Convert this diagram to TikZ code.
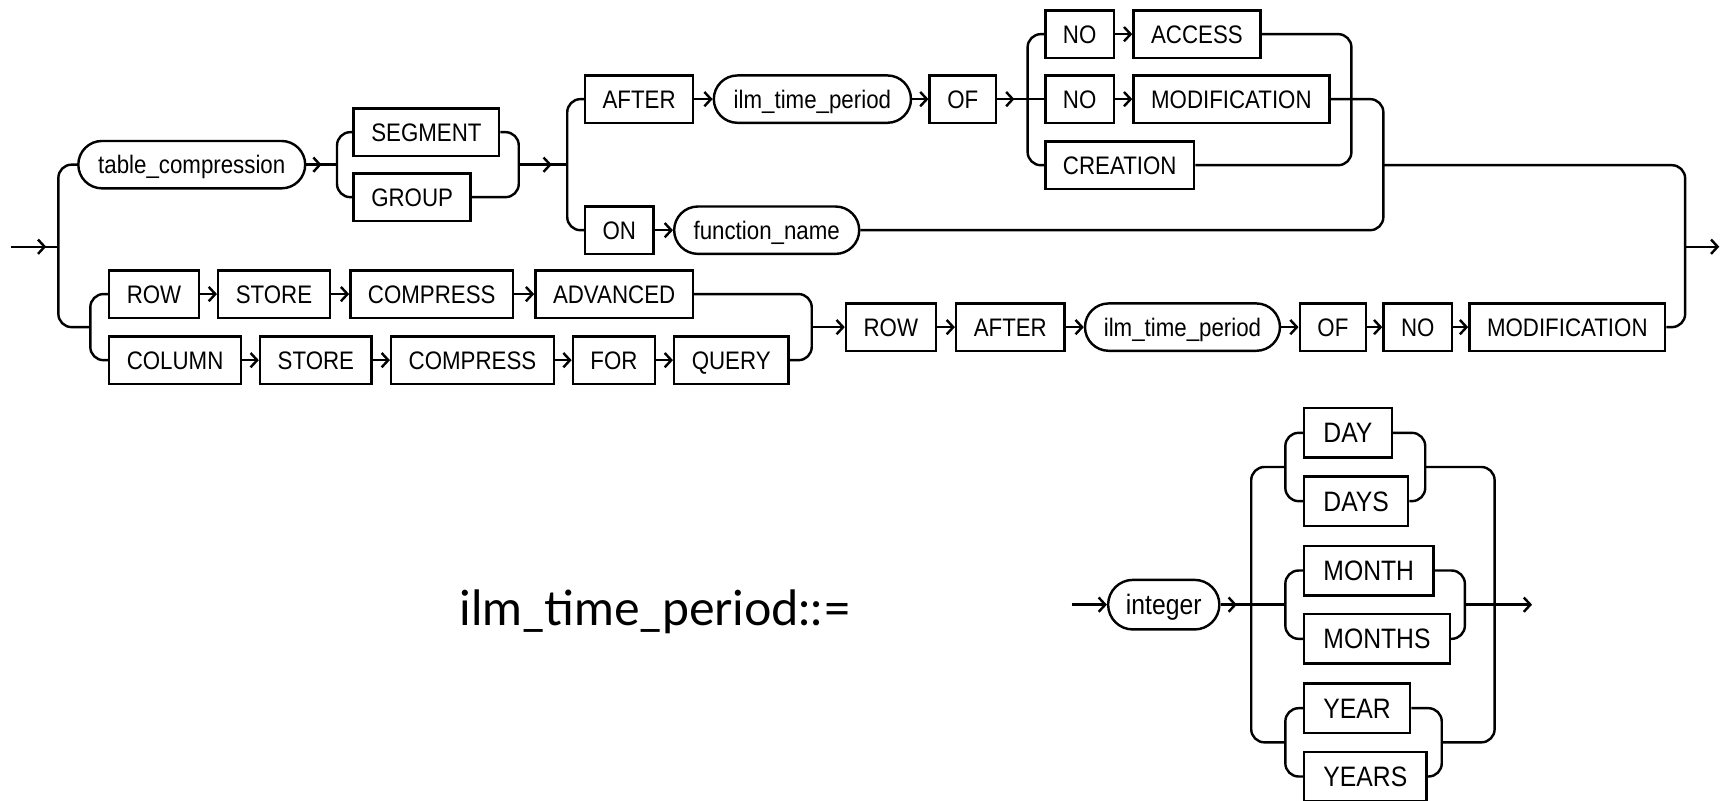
\documentclass[tikz,border=0pt]{standalone}
\usepackage{fontspec}
\usetikzlibrary{arrows.meta}
\setmainfont{Liberation Sans}[FakeStretch=0.88]
\newfontfamily\hdfont{Lato}
\begin{document}
\begin{tikzpicture}[x=1pt,y=-1pt,line width=2.2pt,
  kw/.style={draw, rectangle, minimum height=43pt, inner xsep=16pt, inner ysep=0pt,
     text height=16.5pt, text depth=0pt, anchor=west, font=\normalfont\fontsize{23}{23}\selectfont},
  nt/.style={draw, rectangle, rounded corners=21.5pt, minimum height=43pt, inner xsep=0pt, inner ysep=0pt,
     text height=16.5pt, text depth=0pt, anchor=west, font=\normalfont\fontsize{23}{23}\selectfont},
  kwb/.style={kw, minimum height=45pt, inner xsep=17.5pt, text height=18.3pt, font=\normalfont\fontsize{25.5}{25.5}\selectfont},
  ntb/.style={nt, minimum height=45pt, rounded corners=22.5pt, text height=18.3pt, font=\normalfont\fontsize{25.5}{25.5}\selectfont},
  rc/.style={rounded corners=12pt},
  arr/.style={-{Straight Barb[length=6pt 0,width=13pt 0]}},
]
\useasboundingbox (0,0) rectangle (1568,727);

% ---------- top diagram nodes ----------
\node[nt, minimum width=206pt] (tc) at (70,149.5) {table\_compression};
\node[kw] (seg) at (320,120) {SEGMENT};
\node[kw] (grp) at (320,179) {GROUP};
\node[kw] (after1) at (530,90) {AFTER};
\node[nt, minimum width=179pt] (ilm1) at (647,90) {ilm\_time\_period};
\node[kw] (of1) at (843,90) {OF};
\node[kw] (no1) at (948,31) {NO};
\node[kw] (access) at (1028,31) {ACCESS};
\node[kw] (no2) at (948,90) {NO};
\node[kw] (mod2) at (1028,90) {MODIFICATION};
\node[kw] (cre) at (948,150) {CREATION};
\node[kw] (on) at (530,209) {ON};
\node[nt, minimum width=168pt] (fname) at (611,209) {function\_name};

\node[kw] (row1) at (98,267) {ROW};
\node[kw] (store1) at (197,267) {STORE};
\node[kw] (comp1) at (317,267) {COMPRESS};
\node[kw] (adv) at (485,267) {ADVANCED};
\node[kw] (col1) at (98,327) {COLUMN};
\node[kw] (store2) at (235,327) {STORE};
\node[kw] (comp2) at (354,327) {COMPRESS};
\node[kw] (for) at (519,327) {FOR};
\node[kw] (query) at (611,327) {QUERY};

\node[kw] (row2) at (767,297) {ROW};
\node[kw] (after2) at (867,297) {AFTER};
\node[nt, minimum width=177pt] (ilm2) at (984,297) {ilm\_time\_period};
\node[kw] (of2) at (1179,297) {OF};
\node[kw] (no3) at (1255,297) {NO};
\node[kw] (mod3) at (1333,297) {MODIFICATION};

% coordinates
\coordinate (in0) at (10,224);
\coordinate (inT) at (42,224);
\coordinate (inL) at (53,224);
\coordinate (exR) at (1530,224);
\coordinate (exT) at (1561,224);

% entry
\draw[arr] (in0) -- (inT);
\draw (40,224) -- (inL);
\draw[rc] (tc.west) -- (53,149.5) -- (53,297) -- (82,297);
\draw[rc] (row1.west) -- (82,267) -- (82,327) -- (col1.west);

% table_compression -> segment/group
\draw[arr] (tc.east) -- (292,149.5);
\draw (290,149.5) -- (306,149.5);
\draw[rc] (seg.west) -- (306,120) -- (306,179) -- (grp.west);
\draw[rc] (seg.east) -- (471,120) -- (471,179) -- (grp.east);
\draw[arr] (471,149.5) -- (501,149.5);
\draw (499,149.5) -- (515,149.5);
\draw[rc] (after1.west) -- (515,90) -- (515,209) -- (on.west);

\draw[arr] (after1.east) -- (ilm1.west);
\draw[arr] (ilm1.east) -- (of1.west);
\draw[arr] (of1.east) -- (921,90);
\draw (919,90) -- (no2.west);
\draw[rc] (no1.west) -- (933,31) -- (933,150) -- (cre.west);
\draw[arr] (no1.east) -- (access.west);
\draw[arr] (no2.east) -- (mod2.west);
\draw[rc] (access.east) -- (1227,31) -- (1227,150) -- (cre.east);
\draw[rc] (mod2.east) -- (1256,90) -- (1256,209) -- (fname.east);
\draw[arr] (on.east) -- (fname.west);
\draw[rc] (1256,150) -- (1530,150) -- (1530,297) -- (mod3.east);
\draw[arr] (exR) -- (exT);

% row / column
\draw[arr] (row1.east) -- (store1.west);
\draw[arr] (store1.east) -- (comp1.west);
\draw[arr] (comp1.east) -- (adv.west);
\draw[arr] (col1.east) -- (store2.west);
\draw[arr] (store2.east) -- (comp2.west);
\draw[arr] (comp2.east) -- (for.west);
\draw[arr] (for.east) -- (query.west);
\draw[rc] (adv.east) -- (737,267) -- (737,327) -- (query.east);
\draw[arr] (737,297) -- (row2.west);
\draw[arr] (row2.east) -- (after2.west);
\draw[arr] (after2.east) -- (ilm2.west);
\draw[arr] (ilm2.east) -- (of2.west);
\draw[arr] (of2.east) -- (no3.west);
\draw[arr] (no3.east) -- (mod3.west);

% ---------- ilm_time_period ----------
\node[font=\hdfont\fontsize{44}{44}\selectfont, anchor=base west, inner sep=0pt] (hd) at (416,568) {ilm\_time\_period::=};

\node[ntb, minimum width=101pt] (int) at (1005,549) {integer};
\node[kwb] (day) at (1183,393) {DAY};
\node[kwb] (days) at (1183,455) {DAYS};
\node[kwb] (month) at (1183,518) {MONTH};
\node[kwb] (months) at (1183,580) {MONTHS};
\node[kwb] (year) at (1183,643) {YEAR};
\node[kwb] (years) at (1183,705) {YEARS};

\coordinate (lin0) at (973,549);
\coordinate (lexT) at (1391,549);
\draw[arr] (lin0) -- (int.west);
\draw[arr] (int.east) -- (1123,549);
\draw (1121,549) -- (1167,549);
\draw[rc] (1167,424) -- (1136,424) -- (1136,674) -- (1167,674);
\draw[rc] (day.west) -- (1167,393) -- (1167,455) -- (days.west);
\draw[rc] (month.west) -- (1167,518) -- (1167,580) -- (months.west);
\draw[rc] (year.west) -- (1167,643) -- (1167,705) -- (years.west);
\draw[rc] (day.east) -- (1294,393) -- (1294,455) -- (days.east);
\draw[rc] (month.east) -- (1330,518) -- (1330,580) -- (months.east);
\draw[rc] (year.east) -- (1309,643) -- (1309,705) -- (years.east);
\draw[rc] (1294,424) -- (1357,424) -- (1357,674) -- (1309,674);
\draw[arr] (1330,549) -- (lexT);
\end{tikzpicture}
\end{document}
